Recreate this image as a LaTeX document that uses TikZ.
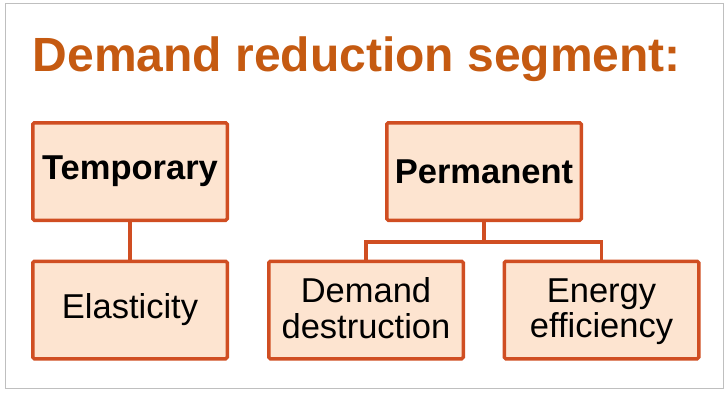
\documentclass[tikz,border=0pt]{standalone}
\usepackage{fontspec}
\setmainfont{Liberation Sans}
\definecolor{boxline}{HTML}{D04E22}
\definecolor{boxfill}{HTML}{FDE4D0}
\definecolor{titlecol}{HTML}{C55A11}
\newcommand{\twolines}[2]{\raisebox{-3pt}[\height][\depth]{\begin{tabular}{@{}c@{}}#1\\#2\end{tabular}}}
\begin{document}
\begin{tikzpicture}[x=1pt, y=1pt,
  segbox/.style={draw=boxline, fill=boxfill, line width=3.5pt, rounded corners=1.5pt,
    minimum width=194.5pt, minimum height=97.5pt, inner sep=0pt, align=center,
    font=\fontsize{34.5}{35}\selectfont},
  link/.style={draw=boxline, line width=3.5pt}]
				  \useasboundingbox (0,0) rectangle (728,392);
				  \draw[black!25, line width=1pt] (5,3.5) rectangle (723,388);
				  \node[anchor=base west, inner sep=0pt, text=titlecol, font=\fontsize{48}{55}\selectfont\bfseries] (title) at (32.5,321) {Demand reduction segment:};
				  \node[segbox] (temp) at (130,220.5) {\textbf{Temporary}};
				  \node[segbox] (elast) at (130,82) {Elasticity};
				  \node[segbox] (perm) at (484,220.5) {\textbf{Permanent}};
				  \node[segbox] (destr) at (366,82) {\twolines{Demand}{destruction}};
				  \node[segbox] (effic) at (601.5,82) {\twolines{Energy}{efficiency}};
				  \coordinate (fork) at (484,150);
				  \draw[link] (temp.south) -- (elast.north);
				  \draw[link] (perm.south) -- (fork);
				  \draw[link] (destr.north) |- (fork) -| (effic.north);
				\end{tikzpicture}
\end{document}
